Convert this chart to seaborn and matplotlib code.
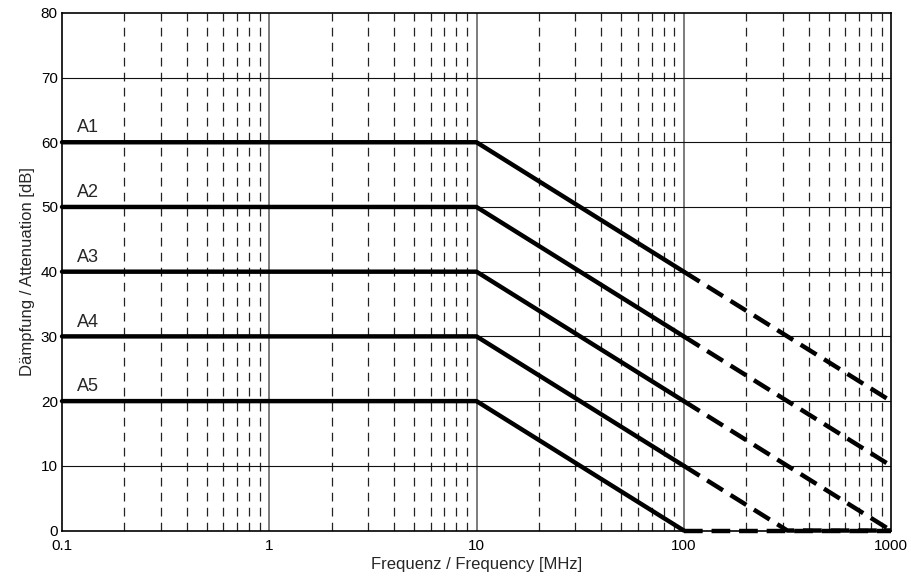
import numpy as np
import pandas as pd
import matplotlib
matplotlib.use("Agg")
import matplotlib.pyplot as plt
import seaborn as sns
from matplotlib.ticker import FixedLocator, FixedFormatter, NullFormatter

sns.set_style("white")
plt.rcParams['font.family'] = ['Liberation Sans', 'DejaVu Sans']

labels = ["A1", "A2", "A3", "A4", "A5"]
label_y = [60, 50, 40, 30, 20]

solid_x = [0.1, 10, 100]
solid_y = {
    "A1": [60, 60, 40],
    "A2": [50, 50, 30],
    "A3": [40, 40, 20],
    "A4": [30, 30, 10],
    "A5": [20, 20, 0],
}
dash_x = {
    "A1": [100, 1000],
    "A2": [100, 1000],
    "A3": [100, 1000],
    "A4": [100, 316, 1000],
    "A5": [100, 1000],
}
dash_y = {
    "A1": [40, 20],
    "A2": [30, 10],
    "A3": [20, 0],
    "A4": [10, 0, 0],
    "A5": [0, 0],
}

x_ticks = [0.1, 1, 10, 100, 1000]
x_ticklabels = ["0.1", "1", "10", "100", "1000"]
y_ticks = [0, 10, 20, 30, 40, 50, 60, 70, 80]

fig, ax = plt.subplots(figsize=(9.12, 5.83), dpi=100)
fig.subplots_adjust(left=0.068, right=0.977, top=0.978, bottom=0.090)

ax.set_xscale("log")
ax.set_xlim(0.1, 1000)
ax.set_ylim(0, 80)

# grid
minor = []
for dec in [0.1, 1, 10, 100]:
    for m in range(2, 10):
        minor.append(dec * m)
for xv in minor:
    ax.axvline(xv, color="#222222", lw=0.9, ls=(0, (7, 5)), zorder=1)
for xv in [1, 10, 100]:
    ax.axvline(xv, color="#666666", lw=1.2, zorder=1)
for yv in y_ticks[1:-1]:
    ax.axhline(yv, color="#111111", lw=0.8, zorder=1)

for lab in labels:
    df_s = pd.DataFrame({"x": solid_x, "y": solid_y[lab]})
    sns.lineplot(data=df_s, x="x", y="y", ax=ax, color="black", lw=3.2,
                 sort=False, estimator=None, zorder=3, clip_on=False)
    df_d = pd.DataFrame({"x": dash_x[lab], "y": dash_y[lab]})
    sns.lineplot(data=df_d, x="x", y="y", ax=ax, color="black", lw=3.2,
                 sort=False, estimator=None, zorder=3, clip_on=False)
    ax.lines[-1].set_linestyle((0, (4.2, 2.0)))

for lab, yv in zip(labels, label_y):
    ax.text(0.1185, yv + 0.9, lab, fontsize=13, ha="left", va="bottom", zorder=4)

ax.xaxis.set_major_locator(FixedLocator(x_ticks))
ax.xaxis.set_major_formatter(FixedFormatter(x_ticklabels))
ax.xaxis.set_minor_formatter(NullFormatter())
ax.set_yticks(y_ticks)
ax.tick_params(axis="both", which="both", length=0, labelsize=11, colors="black")
ax.tick_params(axis="x", pad=6)
ax.tick_params(axis="y", pad=3)

ax.set_xlabel("Frequenz / Frequency [MHz]", fontsize=12, labelpad=3)
ax.set_ylabel("Dämpfung / Attenuation [dB]", fontsize=12)

for s in ax.spines.values():
    s.set_color("black")
    s.set_linewidth(1.2)
    s.set_visible(True)

fig.savefig("out.png", dpi=100)
